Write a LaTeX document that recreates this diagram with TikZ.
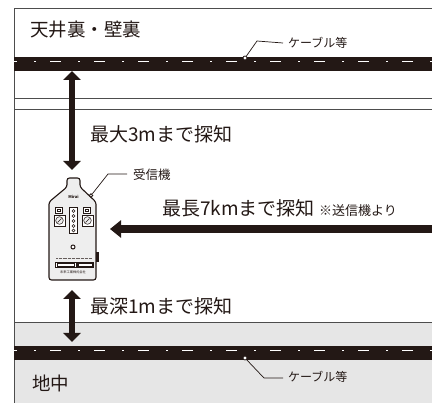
\documentclass[tikz,border=0pt]{standalone}
\usepackage{fontspec}
\setmainfont{Noto Sans CJK JP}
\usetikzlibrary{arrows.meta,positioning,calc}

\definecolor{ink}{HTML}{231815}
\definecolor{soil}{HTML}{E6E6E6}
\definecolor{wall}{HTML}{4D4D4D}
\definecolor{case}{HTML}{EEEEEE}

\begin{document}
\begin{tikzpicture}[x=1pt, y=-1pt,
        area/.style={anchor=west, inner sep=0pt, text=ink, font=\fontsize{18.5}{20}\selectfont},
        reach/.style={anchor=west, inner sep=0pt, text=ink, font=\fontsize{19}{20}\selectfont},
        note/.style={anchor=west, inner sep=0pt, text=ink, font=\fontsize{12}{13}\selectfont},
        leader/.style={draw=ink, line width=0.7pt},
        pin/.style={circle, draw=ink, fill=white, line width=0.8pt, inner sep=0pt, minimum size=4pt},
        cable/.style={draw=white, line width=1.6pt, dash pattern=on 11pt off 17pt on 2pt off 14pt, dash phase=8pt},
        vreach/.style={draw=ink, line width=6pt, {Triangle[length=9pt,width=17pt]}-{Triangle[length=9pt,width=17pt]}},
        hreach/.style={draw=ink, line width=7.5pt, -{Triangle[length=11pt,width=17pt]}},
        knob/.style={draw=ink, line width=0.6pt, fill=white}]
    \useasboundingbox (0,0) rectangle (432,403);

    % ground and outer frame
    \fill[soil] (14,322) rectangle (432,403);
    \draw[wall, line width=0.8pt] (432,322) -- (14,322);
    \draw[wall, line width=0.8pt] (432,8) -- (14,8) -- (14,403);
    \draw[wall, line width=0.8pt] (14,98) -- (432,98);
    \draw[wall, line width=0.8pt] (14,109) -- (432,109);

    % cables
    \fill[ink] (14,57) rectangle (432,71);
    \draw[cable] (14,61.5) -- (432,61.5);
    \fill[ink] (14,346) rectangle (432,360);
    \draw[cable] (14,350.5) -- (432,350.5);

    % area names
    \node (ceiling) [area] at (30,30) {天井裏・壁裏};
    \node (ground) [area] at (32,383) {地中};

    % cable call-outs
    \node (topcable) [note] at (288,43) {ケーブル等};
    \node (toppin) [pin] at (245,58) {};
    \coordinate (topbend) at (257,41);
    \draw[leader] (toppin) -- (topbend) -- (topcable.west -| 283,0);
    \node (lowcable) [note] at (288,377) {ケーブル等};
    \node (lowpin) [pin] at (245,358) {};
    \coordinate (lowbend) at (264,378);
    \draw[leader] (lowpin) -- (lowbend) -- (283,378);

    % receiver body
    \draw[draw=ink, fill=case, line width=1.1pt, rounded corners=2.5pt]
        (67,178) -- (67,187) -- (49,202) -- (49,280) -- (96,280)
        -- (96,202) -- (80,187) -- (80,178) -- cycle;
    \node (rx) [inner sep=0pt, minimum width=47pt, minimum height=102pt] at (72.5,229) {};
    \node (logo) [inner sep=0pt, text=ink, font=\fontsize{4}{4}\bfseries\itshape] at (73.5,197) {Mirai};
    \foreach \dx in {0,28} {
        \draw[knob] (55.5+\dx,207.5) rectangle (62.5+\dx,213.5);
        \draw[ink, line width=0.4pt] (57.5+\dx,209.5) rectangle (60.5+\dx,211.5);
        \draw[knob] (54+\dx,215) rectangle (65+\dx,226);
        \draw[ink, line width=0.5pt, fill=case] (59.5+\dx,220.5) circle (3.8pt);
        \draw[ink, line width=0.6pt] (57.5+\dx,222.5) -- (61.5+\dx,218.5);
    }
    \draw[knob] (69.5,207) rectangle (77.5,233);
    \foreach \y in {211,216,221,226,230.5}
        \draw[ink, line width=0.5pt] (73.5,\y) circle (1.4pt);
    \draw[ink, line width=1pt, fill=white] (73,247) circle (2pt);
    \draw[ink!70, line width=0.4pt, dash pattern=on 0.8pt off 0.5pt] (56,258) -- (92,258);
    \draw[knob] (55,262) rectangle (76,267.5);
    \draw[ink, line width=0.3pt] (57,263.5) rectangle (74,266);
    \draw[ink, fill=ink, line width=0.5pt] (77,262.5) rectangle (93,267.5);
    \fill[white] (78.5,263.7) rectangle (91.5,266.3);
    \node (maker) [inner sep=0pt, text=ink, font=\fontsize{3.2}{3.2}\selectfont] at (73,272.5) {未来工業株式会社};
    \fill[ink] (96,252) rectangle (99,262);

    % receiver call-out
    \node (rxname) [note, font=\fontsize{12.5}{13}\selectfont] at (133,175) {受信機};
    \node (rxpin) [pin, minimum size=3.5pt] at (91,195.5) {};
    \coordinate (rxbend) at (108,174);
    \draw[leader] (rxpin) -- (rxbend) -- (127,174);

    % detection ranges
    \coordinate (ceilfoot) at (72,71);
    \coordinate (rxhead) at (72,170);
    \draw[vreach] (ceilfoot) -- (rxhead);
    \node (upper) [reach] at (90,134.5) {最大3mまで探知};

    \coordinate (tx) at (432,229);
    \coordinate (rxside) at (110,229);
    \draw[hreach] (tx) -- (rxside);
    \node (far) [reach] at (162,208.5) {最長7kmまで探知};
    \node (src) [note, font=\fontsize{13}{14}\selectfont, right=4pt of far.east, yshift=-2pt, anchor=west] {※送信機より};

    \coordinate (rxfoot) at (72,290);
    \coordinate (cablehead) at (72,342);
    \draw[vreach] (rxfoot) -- (cablehead);
    \node (lower) [reach] at (90,306) {最深1mまで探知};
\end{tikzpicture}
\end{document}
